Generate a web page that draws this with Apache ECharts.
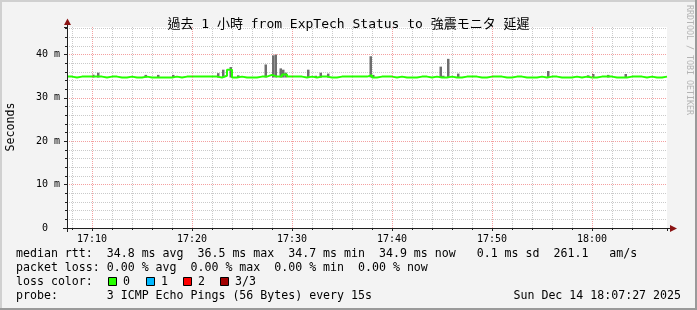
<!DOCTYPE html>
<html><head><meta charset="utf-8">
<script src="https://cdn.jsdelivr.net/npm/echarts@6/dist/echarts.min.js"></script>
<style>html,body{margin:0;padding:0;background:#f3f3f3}#c{width:697px;height:310px}</style>
</head><body><div id="c"></div>
<script>
// ---------- data ----------
const titleText = '過去 1 小時 from ExpTech Status to 強震モニタ 延遲';
const yAxisName = 'Seconds';
const startTime = '17:07:30';
const endTime = '18:07:30';
const medianStepSec = 30;
// median rtt (ms), one value per 30 s from 17:07:30
const median = [
  34.9, 34.7, 34.9, 34.9, 34.9, 34.9, 34.9, 34.7, 34.9, 34.9,
  34.7, 34.7, 34.9, 34.7, 34.7, 34.9, 34.7, 34.7, 34.7, 34.7,
  34.7, 34.9, 34.7, 34.9, 34.9, 34.9, 34.9, 34.9, 34.9, 34.9,
  34.7, 35.1, 36.5, 34.7, 34.9, 34.7, 34.7, 34.7, 34.9, 34.9,
  35.3, 34.9, 34.9, 35.4, 34.9, 34.9, 34.9, 34.7, 34.9, 34.7,
  34.9, 34.9, 34.7, 34.7, 34.9, 34.9, 34.9, 34.9, 34.9, 34.9,
  35.2, 34.7, 34.9, 34.9, 34.9, 34.7, 34.9, 34.7, 34.7, 34.7,
  34.9, 34.9, 34.7, 34.9, 34.7, 34.7, 34.9, 34.7, 34.7, 34.9,
  34.9, 34.9, 34.7, 34.7, 34.9, 34.9, 34.9, 34.7, 34.7, 34.9,
  34.9, 34.7, 34.7, 34.7, 34.9, 34.7, 34.9, 34.9, 34.7, 34.7,
  34.7, 34.9, 34.7, 34.9, 34.7, 34.7, 34.9, 34.9, 34.9, 34.7,
  34.7, 34.7, 34.9, 34.9, 34.9, 34.7, 34.9, 34.7, 34.7, 34.9
];
// smoke (ping spread), 15 s slots
const smokeStepSec = 15;
const smokeTimes = [
  '17:10:00','17:10:30','17:15:15','17:16:30','17:18:00','17:22:30','17:23:00','17:23:45',
  '17:24:30','17:27:15','17:28:00','17:28:15','17:28:45','17:29:00','17:29:15','17:31:30',
  '17:32:15','17:32:45','17:33:30','17:37:45','17:38:00','17:44:45','17:45:00','17:45:30',
  '17:46:30','17:55:30','17:59:30','18:00:00','18:01:30','18:03:15'
];
const smokeLow = [
  34.7,34.7,34.7,34.7,34.7,34.7,34.7,34.7,34.7,34.7,34.7,34.7,34.7,34.7,34.7,
  34.7,34.7,34.7,34.7,34.7,34.7,34.7,34.7,34.7,34.7,34.7,34.7,34.7,34.7,34.7
];
const smokeHigh = [
  35.35,35.8,35.3,35.3,35.3,35.7,36.5,37.1,35.2,37.7,39.8,40.0,36.8,36.5,35.8,36.5,
  35.1,35.8,35.6,39.6,35.3,37.2,35.1,39.0,35.6,36.2,35.2,35.5,35.3,35.5
];
const yMajorTicks = [10, 20, 30, 40];
const xMajorTicks = ['17:10','17:20','17:30','17:40','17:50','18:00'];
const legendRows = [
  { y: 254, text: 'median rtt:  34.8 ms avg  36.5 ms max  34.7 ms min  34.9 ms now   0.1 ms sd  261.1   am/s' },
  { y: 268, text: 'packet loss: 0.00 % avg  0.00 % max  0.00 % min  0.00 % now' },
  { y: 282, text: 'loss color:' },
  { y: 296, text: 'probe:       3 ICMP Echo Pings (56 Bytes) every 15s' }
];
const lossLabels = ['0', '1', '2', '3/3'];
const lossColors = ['#26ff00', '#00b8ff', '#ff0000', '#a10000'];
const dateText = 'Sun Dec 14 18:07:27 2025';
const watermark = 'RRDTOOL / TOBI OETIKER';

// ---------- helpers ----------
const toSec = s => { const p = s.split(':').map(Number); return p[0]*3600 + p[1]*60 + (p[2]||0); };
const pad = n => (n < 10 ? '0' : '') + n;
const fmtTime = v => pad(Math.floor(v/3600)) + ':' + pad(Math.floor(v%3600/60));
const t0 = toSec(startTime), t1 = toSec(endTime);
const MONO = "'DejaVu Sans Mono', 'Noto Sans CJK TC', monospace";
const LEG_FONT = '11.6px ' + MONO;

const medianData = median.map((v, i) => [t0 + i*medianStepSec, v]);
medianData.push([t0 + median.length*medianStepSec, median[median.length-1]]);
const smokeData = smokeTimes.map((t, i) => [toSec(t), smokeLow[i], smokeHigh[i]]);

const majorLine = { color: 'rgba(240,120,120,0.7)', type: [1, 1], width: 1 };
const minorLine = { color: 'rgba(150,150,150,0.5)', type: [1, 1], width: 1 };
const ARROW = '#8b1414';
const AXIS = '#202020';

const graphics = [];
// 3D border
graphics.push({ type:'rect', shape:{x:0,y:0,width:697,height:2}, style:{fill:'#d0d0d0'}, silent:true });
graphics.push({ type:'rect', shape:{x:0,y:0,width:2,height:310}, style:{fill:'#d0d0d0'}, silent:true });
graphics.push({ type:'rect', shape:{x:0,y:308,width:697,height:2}, style:{fill:'#9a9a9a'}, silent:true });
graphics.push({ type:'rect', shape:{x:695,y:0,width:2,height:310}, style:{fill:'#9a9a9a'}, silent:true });
// axis extensions and arrows (decoration)
graphics.push({ type:'line', shape:{x1:67.5,y1:232,x2:67.5,y2:24}, style:{stroke:AXIS,lineWidth:1}, silent:true, z:10 });
graphics.push({ type:'polygon', shape:{points:[[67.5,18.5],[64,25],[71,25]]}, style:{fill:ARROW}, silent:true, z:10 });
graphics.push({ type:'line', shape:{x1:63,y1:228.5,x2:671,y2:228.5}, style:{stroke:AXIS,lineWidth:1}, silent:true, z:10 });
graphics.push({ type:'polygon', shape:{points:[[677,228.5],[670,225],[670,232]]}, style:{fill:ARROW}, silent:true, z:10 });
// y axis name
graphics.push({ type:'text', x:11, y:127, rotation:Math.PI/2, style:{ text:yAxisName, font:LEG_FONT, fill:'#000', align:'center', verticalAlign:'middle' }, silent:true });
// watermark
graphics.push({ type:'text', x:689, y:5, rotation:-Math.PI/2, style:{ text:watermark, font:'8.3px ' + MONO, fill:'#b4b4b4', align:'left', verticalAlign:'middle' }, silent:true });
legendRows.forEach(r => {
  graphics.push({ type:'text', x:16, y:r.y, style:{ text:r.text, font:LEG_FONT, fill:'#000', align:'left', verticalAlign:'middle' }, silent:true });
});
[108,146,183,220].forEach((x, i) => {
  graphics.push({ type:'rect', shape:{x:x+0.5, y:277.5, width:8, height:8}, style:{ fill:lossColors[i], stroke:'#000', lineWidth:1 }, silent:true });
  graphics.push({ type:'text', x:x+15, y:282, style:{ text:lossLabels[i], font:LEG_FONT, fill:'#000', align:'left', verticalAlign:'middle' }, silent:true });
});
graphics.push({ type:'text', x:681, y:296, style:{ text:dateText, font:LEG_FONT, fill:'#000', align:'right', verticalAlign:'middle' }, silent:true });

const chart = echarts.init(document.getElementById('c'), null, { renderer:'canvas' });
chart.setOption({
  backgroundColor: '#f3f3f3',
  animation: false,
  title: { text: titleText, left: 'center', top: 13, textStyle: { fontFamily: MONO, fontSize: 13, fontWeight: 'normal', color: '#000' } },
  grid: { left: 67, top: 27, width: 600, height: 201, show: true, backgroundColor: '#ffffff', borderWidth: 0 },
  xAxis: {
    type: 'value', min: t0, max: t1, splitNumber: 6, minInterval: 600, maxInterval: 600,
    axisLine: { show: true, onZero: false, lineStyle: { color: AXIS, width: 1 } },
    axisTick: { show: true, length: 3, inside: false, lineStyle: { color: AXIS } },
    minorTick: { show: true, splitNumber: 5, length: 2, lineStyle: { color: AXIS } },
    axisLabel: { showMinLabel: false, showMaxLabel: false, margin: 6, fontFamily: MONO, fontSize: 10, color: '#000', formatter: v => (v % 600 === 0 ? fmtTime(v) : '') },
    splitLine: { show: false },
    minorSplitLine: { show: true, lineStyle: minorLine }
  },
  yAxis: {
    type: 'value', min: 0, max: 46.34, interval: 10,
    axisLine: { show: true, onZero: false, lineStyle: { color: AXIS, width: 1 } },
    axisTick: { show: true, length: 3, lineStyle: { color: AXIS } },
    minorTick: { show: true, splitNumber: 5, length: 2, lineStyle: { color: AXIS } },
    axisLabel: { showMaxLabel: false, margin: 7, fontFamily: MONO, fontSize: 10, color: '#000', formatter: v => (v === 0 ? '0  ' : (v % 10 === 0 ? v + ' m' : '')) },
    splitLine: { show: false },
    minorSplitLine: { show: true, lineStyle: minorLine }
  },
  series: [
    {
      type: 'line', data: [], z: 1, silent: true,
      markLine: {
        silent: true, symbol: ['none','none'], label: { show: false }, lineStyle: majorLine, animation: false,
        data: yMajorTicks.map(v => ({ yAxis: v })).concat(xMajorTicks.map(t => ({ xAxis: toSec(t) })))
      }
    },
    {
      type: 'custom', z: 2, silent: true, data: smokeData,
      encode: { x: 0, y: [1, 2] },
      renderItem: (params, api) => {
        const t = api.value(0);
        const a = api.coord([t, api.value(2)]);
        const b = api.coord([t + smokeStepSec, api.value(1)]);
        return { type: 'rect', shape: { x: a[0], y: a[1], width: b[0]-a[0], height: b[1]-a[1] }, style: { fill: '#6e6e6e' } };
      }
    },
    {
      type: 'line', z: 3, data: medianData, step: 'end', showSymbol: false, silent: true,
      lineStyle: { color: '#26ff00', width: 2 }
    }
  ],
  graphic: graphics
});
</script></body></html>
